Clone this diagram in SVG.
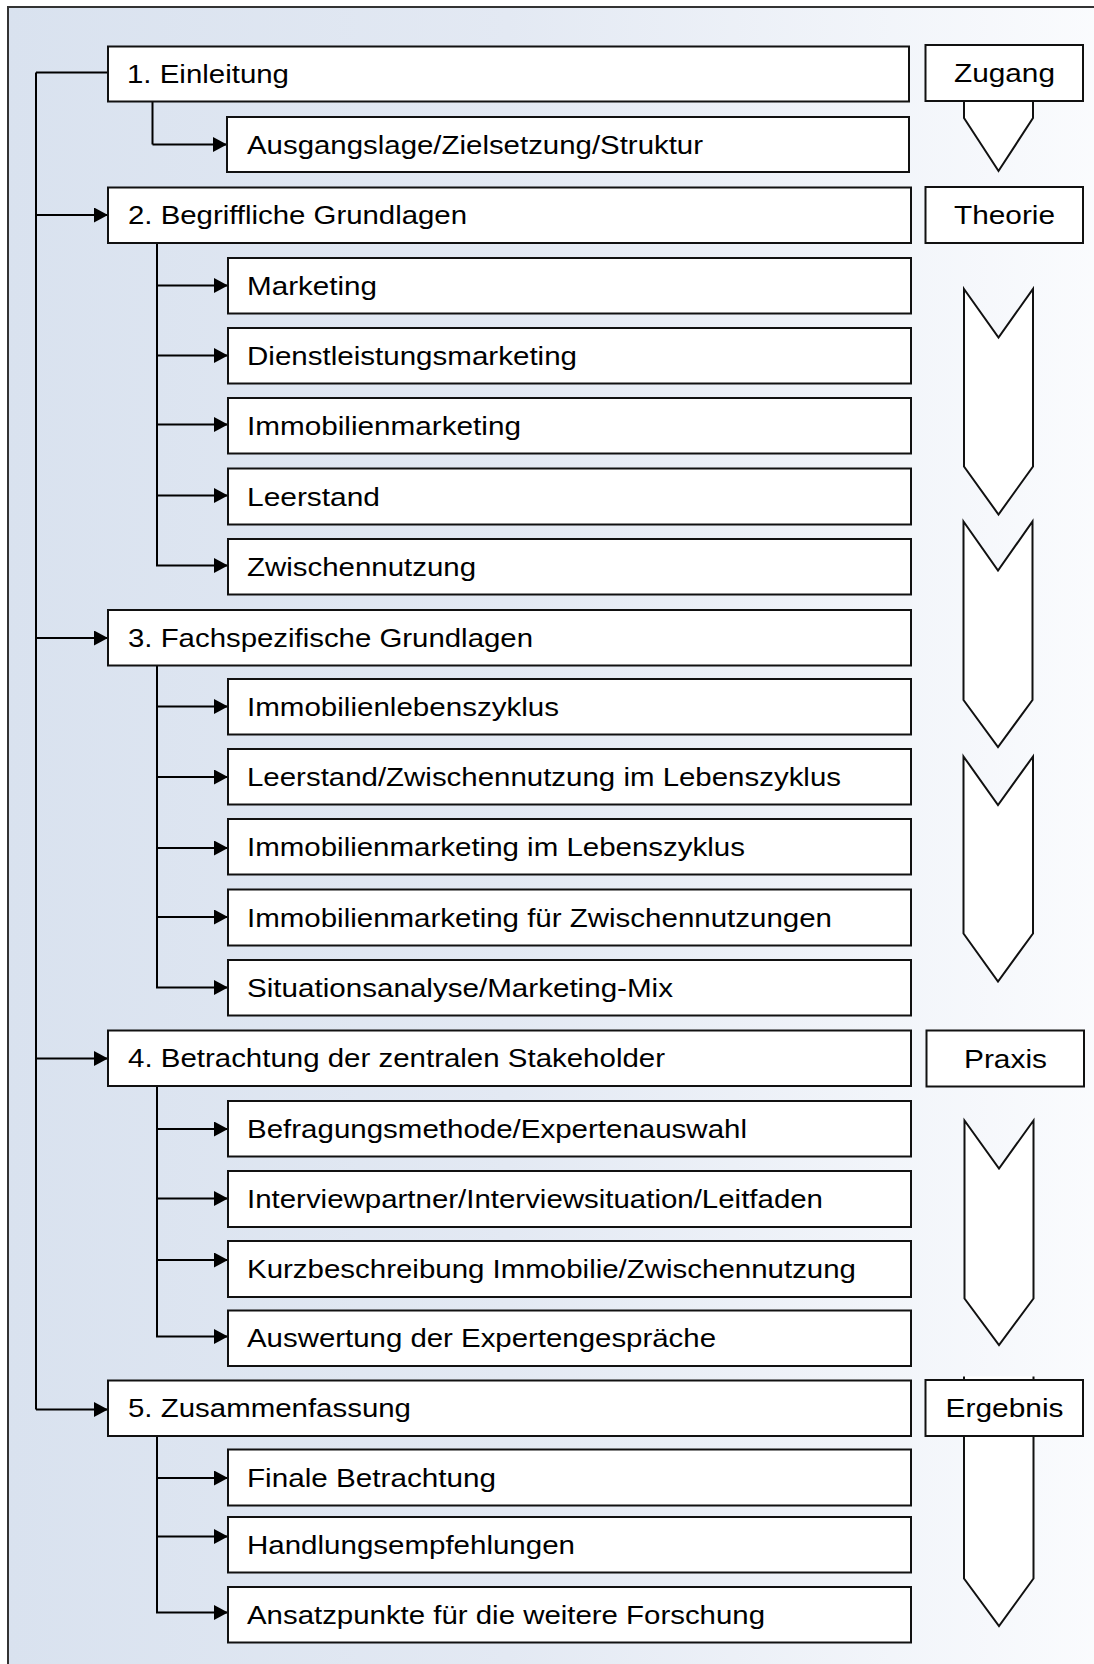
<svg xmlns="http://www.w3.org/2000/svg" width="1094" height="1664" viewBox="0 0 1094 1664">
  <defs>
    <linearGradient id="panelFill" x1="0" y1="0" x2="1" y2="0">
      <stop offset="0" stop-color="#d9e2ef"/>
      <stop offset="0.45" stop-color="#e3e9f3"/>
      <stop offset="1" stop-color="#fbfcfe"/>
    </linearGradient>
    <marker id="arrowHead" viewBox="0 0 14 15" refX="14" refY="7.5" markerWidth="14" markerHeight="15" markerUnits="userSpaceOnUse" orient="auto">
      <path d="M0,0 L14,7.5 L0,15 Z" fill="#000"/>
    </marker>
    <style>
      .box { fill: #ffffff; stroke: #111111; stroke-width: 2; }
      .chev { fill: #ffffff; stroke: #111111; stroke-width: 2; stroke-linejoin: miter; }
      .lbl { font-family: "Liberation Sans", Arial, sans-serif; font-size: 26px; fill: #000000; }
      .mid { text-anchor: middle; }
      .wire { fill: none; stroke: #000000; stroke-width: 2; }
      .arr { fill: none; stroke: #000000; stroke-width: 2; marker-end: url(#arrowHead); }
    </style>
  </defs>

  <!-- page and framed panel -->
  <rect x="0" y="0" width="1094" height="1664" fill="#ffffff"/>
  <rect x="8" y="7" width="1110" height="1700" fill="url(#panelFill)" stroke="#333333" stroke-width="2"/>

  <!-- connectors -->
  <g id="connectors">
    <path class="wire" d="M36,72.5 V1409.5"/>
    <path class="wire" d="M36,72.5 H108"/>
    <path class="arr" d="M36,215 H108"/>
    <path class="arr" d="M36,638 H108"/>
    <path class="arr" d="M36,1058.5 H108"/>
    <path class="arr" d="M36,1409.5 H108"/>

    <path class="wire" d="M152.5,101.5 V144.5"/>
    <path class="arr" d="M152.5,144.5 H227"/>

    <path class="wire" d="M157,243 V565.5"/>
    <path class="arr" d="M157,285.5 H228"/>
    <path class="arr" d="M157,355.5 H228"/>
    <path class="arr" d="M157,424.5 H228"/>
    <path class="arr" d="M157,495.5 H228"/>
    <path class="arr" d="M156,565.5 H228"/>

    <path class="wire" d="M157,665.5 V987.5"/>
    <path class="arr" d="M157,706.5 H228"/>
    <path class="arr" d="M157,777 H228"/>
    <path class="arr" d="M157,848 H228"/>
    <path class="arr" d="M157,917 H228"/>
    <path class="arr" d="M156,987.5 H228"/>

    <path class="wire" d="M157,1086 V1336.5"/>
    <path class="arr" d="M157,1129 H228"/>
    <path class="arr" d="M157,1198.5 H228"/>
    <path class="arr" d="M157,1260 H228"/>
    <path class="arr" d="M156,1336.5 H228"/>

    <path class="wire" d="M157,1436 V1612.5"/>
    <path class="arr" d="M157,1478 H228"/>
    <path class="arr" d="M157,1536.5 H228"/>
    <path class="arr" d="M156,1612.5 H228"/>
  </g>

  <!-- chapter 1 -->
  <g id="ch1">
    <rect class="box" x="108" y="46.5" width="801" height="55"/>
    <text class="lbl" x="127" y="83" textLength="162" lengthAdjust="spacingAndGlyphs">1. Einleitung</text>
  </g>
  <g id="ch1-1">
    <rect class="box" x="227" y="117" width="682" height="55"/>
    <text class="lbl" x="247" y="153.5" textLength="456" lengthAdjust="spacingAndGlyphs">Ausgangslage/Zielsetzung/Struktur</text>
  </g>

  <!-- chapter 2 -->
  <g id="ch2">
    <rect class="box" x="108" y="187.5" width="803" height="55.5"/>
    <text class="lbl" x="128" y="224" textLength="339" lengthAdjust="spacingAndGlyphs">2. Begriffliche Grundlagen</text>
  </g>
  <g id="ch2-1">
    <rect class="box" x="228" y="258" width="683" height="55.5"/>
    <text class="lbl" x="247" y="294.5" textLength="130" lengthAdjust="spacingAndGlyphs">Marketing</text>
  </g>
  <g id="ch2-2">
    <rect class="box" x="228" y="328" width="683" height="55.5"/>
    <text class="lbl" x="247" y="364.5" textLength="330" lengthAdjust="spacingAndGlyphs">Dienstleistungsmarketing</text>
  </g>
  <g id="ch2-3">
    <rect class="box" x="228" y="398" width="683" height="55.5"/>
    <text class="lbl" x="247" y="434.5" textLength="274" lengthAdjust="spacingAndGlyphs">Immobilienmarketing</text>
  </g>
  <g id="ch2-4">
    <rect class="box" x="228" y="468.5" width="683" height="56"/>
    <text class="lbl" x="247" y="505.5" textLength="133" lengthAdjust="spacingAndGlyphs">Leerstand</text>
  </g>
  <g id="ch2-5">
    <rect class="box" x="228" y="539" width="683" height="55.5"/>
    <text class="lbl" x="247" y="575.5" textLength="229" lengthAdjust="spacingAndGlyphs">Zwischennutzung</text>
  </g>

  <!-- chapter 3 -->
  <g id="ch3">
    <rect class="box" x="108" y="610" width="803" height="55.5"/>
    <text class="lbl" x="128" y="646.5" textLength="405" lengthAdjust="spacingAndGlyphs">3. Fachspezifische Grundlagen</text>
  </g>
  <g id="ch3-1">
    <rect class="box" x="228" y="679" width="683" height="55.5"/>
    <text class="lbl" x="247" y="715.5" textLength="312" lengthAdjust="spacingAndGlyphs">Immobilienlebenszyklus</text>
  </g>
  <g id="ch3-2">
    <rect class="box" x="228" y="749" width="683" height="55.5"/>
    <text class="lbl" x="247" y="785.5" textLength="594" lengthAdjust="spacingAndGlyphs">Leerstand/Zwischennutzung im Lebenszyklus</text>
  </g>
  <g id="ch3-3">
    <rect class="box" x="228" y="819" width="683" height="55.5"/>
    <text class="lbl" x="247" y="855.5" textLength="498" lengthAdjust="spacingAndGlyphs">Immobilienmarketing im Lebenszyklus</text>
  </g>
  <g id="ch3-4">
    <rect class="box" x="228" y="889.5" width="683" height="56"/>
    <text class="lbl" x="247" y="926.5" textLength="585" lengthAdjust="spacingAndGlyphs">Immobilienmarketing für Zwischennutzungen</text>
  </g>
  <g id="ch3-5">
    <rect class="box" x="228" y="960" width="683" height="55.5"/>
    <text class="lbl" x="247" y="996.5" textLength="426" lengthAdjust="spacingAndGlyphs">Situationsanalyse/Marketing-Mix</text>
  </g>

  <!-- chapter 4 -->
  <g id="ch4">
    <rect class="box" x="108" y="1030.5" width="803" height="55.5"/>
    <text class="lbl" x="128" y="1067" textLength="537" lengthAdjust="spacingAndGlyphs">4. Betrachtung der zentralen Stakeholder</text>
  </g>
  <g id="ch4-1">
    <rect class="box" x="228" y="1101" width="683" height="55.5"/>
    <text class="lbl" x="247" y="1137.5" textLength="500" lengthAdjust="spacingAndGlyphs">Befragungsmethode/Expertenauswahl</text>
  </g>
  <g id="ch4-2">
    <rect class="box" x="228" y="1171" width="683" height="56"/>
    <text class="lbl" x="247" y="1208" textLength="576" lengthAdjust="spacingAndGlyphs">Interviewpartner/Interviewsituation/Leitfaden</text>
  </g>
  <g id="ch4-3">
    <rect class="box" x="228" y="1241" width="683" height="56"/>
    <text class="lbl" x="247" y="1278" textLength="609" lengthAdjust="spacingAndGlyphs">Kurzbeschreibung Immobilie/Zwischennutzung</text>
  </g>
  <g id="ch4-4">
    <rect class="box" x="228" y="1310.5" width="683" height="55.5"/>
    <text class="lbl" x="247" y="1347" textLength="469" lengthAdjust="spacingAndGlyphs">Auswertung der Expertengespräche</text>
  </g>

  <!-- chapter 5 -->
  <g id="ch5">
    <rect class="box" x="108" y="1380.5" width="803" height="55.5"/>
    <text class="lbl" x="128" y="1417" textLength="283" lengthAdjust="spacingAndGlyphs">5. Zusammenfassung</text>
  </g>
  <g id="ch5-1">
    <rect class="box" x="228" y="1449.5" width="683" height="56"/>
    <text class="lbl" x="247" y="1486.5" textLength="249" lengthAdjust="spacingAndGlyphs">Finale Betrachtung</text>
  </g>
  <g id="ch5-2">
    <rect class="box" x="228" y="1517" width="683" height="55.5"/>
    <text class="lbl" x="247" y="1553.5" textLength="328" lengthAdjust="spacingAndGlyphs">Handlungsempfehlungen</text>
  </g>
  <g id="ch5-3">
    <rect class="box" x="228" y="1587" width="683" height="55.5"/>
    <text class="lbl" x="247" y="1623.5" textLength="518" lengthAdjust="spacingAndGlyphs">Ansatzpunkte für die weitere Forschung</text>
  </g>

  <!-- phase column: chevrons first, labels on top -->
  <g id="phase-arrows">
    <polygon class="chev" points="964,90 1033,90 1033,118 998.5,171 964,118"/>
    <polygon class="chev" points="964,289 998.5,337.5 1033,289 1033,466.5 998.5,514.5 964,466.5"/>
    <polygon class="chev" points="963.5,521.5 998,570.5 1032.5,521.5 1032.5,700 998,747 963.5,700"/>
    <polygon class="chev" points="963.5,756.5 998,805 1033,756.5 1033,933.5 998,981.5 963.5,933.5"/>
    <polygon class="chev" points="964.5,1120.5 999,1168.5 1033.5,1120.5 1033.5,1298.5 999,1345 964.5,1298.5"/>
    <!-- last arrow: open at the top, its upper end tucked under the label -->
    <path class="chev" d="M964,1376.5 V1578.5 L999,1626 L1033.5,1578.5 V1376.5"/>
  </g>
  <g id="phase-zugang">
    <rect class="box" x="925.5" y="45" width="157.5" height="56"/>
    <text class="lbl mid" x="1004.5" y="82" textLength="101" lengthAdjust="spacingAndGlyphs">Zugang</text>
  </g>
  <g id="phase-theorie">
    <rect class="box" x="925.5" y="187" width="157.5" height="56"/>
    <text class="lbl mid" x="1004.5" y="224" textLength="101" lengthAdjust="spacingAndGlyphs">Theorie</text>
  </g>
  <g id="phase-praxis">
    <rect class="box" x="926.5" y="1030.5" width="157.5" height="56"/>
    <text class="lbl mid" x="1005.5" y="1067.5" textLength="83" lengthAdjust="spacingAndGlyphs">Praxis</text>
  </g>
  <g id="phase-ergebnis">
    <rect class="box" x="925.5" y="1380" width="157.5" height="56"/>
    <text class="lbl mid" x="1004.5" y="1417" textLength="118" lengthAdjust="spacingAndGlyphs">Ergebnis</text>
  </g>
</svg>
